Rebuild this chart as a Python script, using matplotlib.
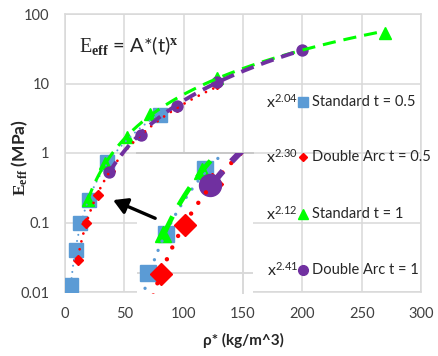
import numpy as np
import matplotlib
matplotlib.use("Agg")
import matplotlib.pyplot as plt

plt.rcParams['font.family'] = ['Lato', 'DejaVu Sans']
plt.rcParams['mathtext.fontset'] = 'custom'
plt.rcParams['mathtext.rm'] = 'Liberation Serif'
plt.rcParams['mathtext.bf'] = 'Liberation Serif:bold'
plt.rcParams['mathtext.it'] = 'Liberation Serif:italic'
plt.rcParams['mathtext.default'] = 'regular'

# ---- data: effective modulus vs relative density ----
std05_rho = [5, 9, 13, 20, 35, 80]
std05_E = [0.0125, 0.04, 0.1, 0.21, 0.73, 3.5]
da05_rho = [11, 18, 27.5, 38, 64, 94, 128]
da05_E = [0.0286, 0.098, 0.25, 0.55, 1.8, 4.6, 10.0]
std1_rho = [19, 34, 52, 72, 128, 270]
std1_E = [0.21, 0.71, 1.7, 3.6, 12, 54]
da1_rho = [37, 64, 94, 128, 200]
da1_E = [0.54, 1.82, 4.77, 10.6, 30.6]

series_labels = ['Standard t = 0.5', 'Double Arc t = 0.5', 'Standard t = 1', 'Double Arc t = 1']
exponents = [2.04, 2.30, 2.12, 2.41]
x_ticks = [0, 50, 100, 150, 200, 250, 300]
y_ticks = [0.01, 0.1, 1, 10, 100]
y_tick_labels = ['0.01', '0.1', '1', '10', '100']

GRID = '#D9D9D9'
TXT = '#404040'

series = [
    dict(rho=std05_rho, E=std05_E, color='#5B9BD5', marker='s', ms=9.4, ms_in=12.2, lg_ms=7.2,
         ls=(0, (0.01, 3.0)), lw=1.5, cap='round'),
    dict(rho=da05_rho, E=da05_E, color='#FF0000', marker='D', ms=4.6, ms_in=11.2, lg_ms=4.0,
         ls=(0, (0.01, 2.9)), lw=2.0, cap='round'),
    dict(rho=std1_rho, E=std1_E, color='#00FF00', marker='^', ms=8.6, ms_in=12.2, lg_ms=7.0,
         ls=(0, (4.3, 2.6)), lw=2.2, cap='butt'),
    dict(rho=da1_rho, E=da1_E, color='#7030A0', marker='o', ms=7.9, ms_in=15.8, lg_ms=7.0,
         ls=(0, (3.4, 2.05)), lw=2.8, cap='butt'),
]


def power_fit(rho, E, x):
    rho = np.asarray(rho, float)
    E = np.asarray(E, float)
    A = np.exp(np.mean(np.log(E) - x * np.log(rho)))
    r = np.linspace(rho.min(), rho.max(), 300)
    return r, A * r ** x


fig = plt.figure(figsize=(4.38, 3.56), dpi=100)
W, H = 438.0, 356.0
ax = fig.add_axes([65 / W, (H - 292) / H, 356 / W, 278 / H])
ax.set_yscale('log')
ax.set_xlim(0, 300)
ax.set_ylim(0.01, 100)
ax.set_xticks(x_ticks)
ax.set_xticklabels([str(t) for t in x_ticks])
ax.set_yticks(y_ticks)
ax.set_yticklabels(y_tick_labels)
ax.minorticks_off()
ax.tick_params(length=0, labelsize=10.5, labelcolor=TXT)
ax.tick_params(axis='y', pad=11)
ax.tick_params(axis='x', pad=11)
ax.grid(True, color=GRID, lw=1.1)
ax.set_axisbelow(True)
for sp in ax.spines.values():
    sp.set_color(GRID)
    sp.set_linewidth(1.1)

for s in series:
    ax.plot(s['rho'], s['E'], ls='none', marker=s['marker'], ms=s['ms'],
            color=s['color'], mec=s['color'], zorder=3)
for s, x in zip(series, exponents):
    r, e = power_fit(s['rho'], s['E'], x)
    ax.plot(r, e, color=s['color'], lw=s['lw'], ls=s['ls'],
            dash_capstyle=s['cap'], solid_capstyle=s['cap'], zorder=4)

# magnified view of the low-density region
ax_in = fig.add_axes([137 / W, (H - 293.5) / H, 116 / W, 140.5 / H])
ax_in.set_yscale('log')
ax_in.set_xlim(8.72, 53.86)
ax_in.set_ylim(0.0675, 1.0)
ax_in.set_xticks([])
ax_in.set_yticks([])
ax_in.minorticks_off()
for name, sp in ax_in.spines.items():
    sp.set_visible(name == 'top')
ax_in.spines['top'].set_color('#C8C8C8')
ax_in.spines['top'].set_linewidth(1.4)
ax_in.axvline(50, color=GRID, lw=1.4, zorder=1)
ax_in.axhline(0.1, color=GRID, lw=1.4, zorder=1)
for s in series:
    ax_in.plot(s['rho'], s['E'], ls='none', marker=s['marker'], ms=s['ms_in'],
               color=s['color'], mec=s['color'], zorder=3)
for s, x in zip(series, exponents):
    r, e = power_fit(s['rho'], s['E'], x)
    ax_in.plot(r, e, color=s['color'], lw=s['lw'] * 1.6, ls=s['ls'],
               dash_capstyle=s['cap'], solid_capstyle=s['cap'], zorder=4)

ann = ax_in.annotate('', xy=(40.5, 0.21), xycoords=ax.transData,
                     xytext=(76, 0.115), textcoords=ax.transData,
                     arrowprops=dict(arrowstyle='-|>,head_length=0.6,head_width=0.35',
                                     color='black', lw=2.4, shrinkA=0, shrinkB=0,
                                     mutation_scale=14),
                     annotation_clip=False, zorder=10)
ann.arrow_patch.set_clip_on(False)

# legend with fitted exponents
row_y = [102, 157, 214, 270]
for s, lab, x, py in zip(series, series_labels, exponents, row_y):
    yf = (H - py) / H
    fig.text(298 / W, yf, r'x$^{%.2f}$' % x, ha='right', va='center',
             fontsize=11.5, color='#262626')
    fig.add_artist(plt.Line2D([303 / W], [yf], marker=s['marker'], ms=s['lg_ms'],
                              color=s['color'], mec=s['color'], ls='none',
                              transform=fig.transFigure))
    fig.text(312 / W, yf, lab, ha='left', va='center', fontsize=10.5, color='#262626')

# formula, axis titles
fig.text(79 / W, (H - 52) / H, r'$\mathrm{E}_{\mathbf{eff}}$ = A*(t)$^{\mathbf{x}}$',
         ha='left', va='baseline', fontsize=14.5, color='#262626')
fig.text(20 / W, (H - 158) / H, r'$\mathbf{E_{eff}}$ (MPa)', rotation=90,
         ha='center', va='center', fontsize=12.5, fontweight='bold', color='#262626')
fig.text(243 / W, (H - 340) / H, 'ρ* (kg/m^3)', ha='center', va='center',
         fontsize=11, fontweight='bold', color='#262626')

fig.savefig('out.png', dpi=100)
